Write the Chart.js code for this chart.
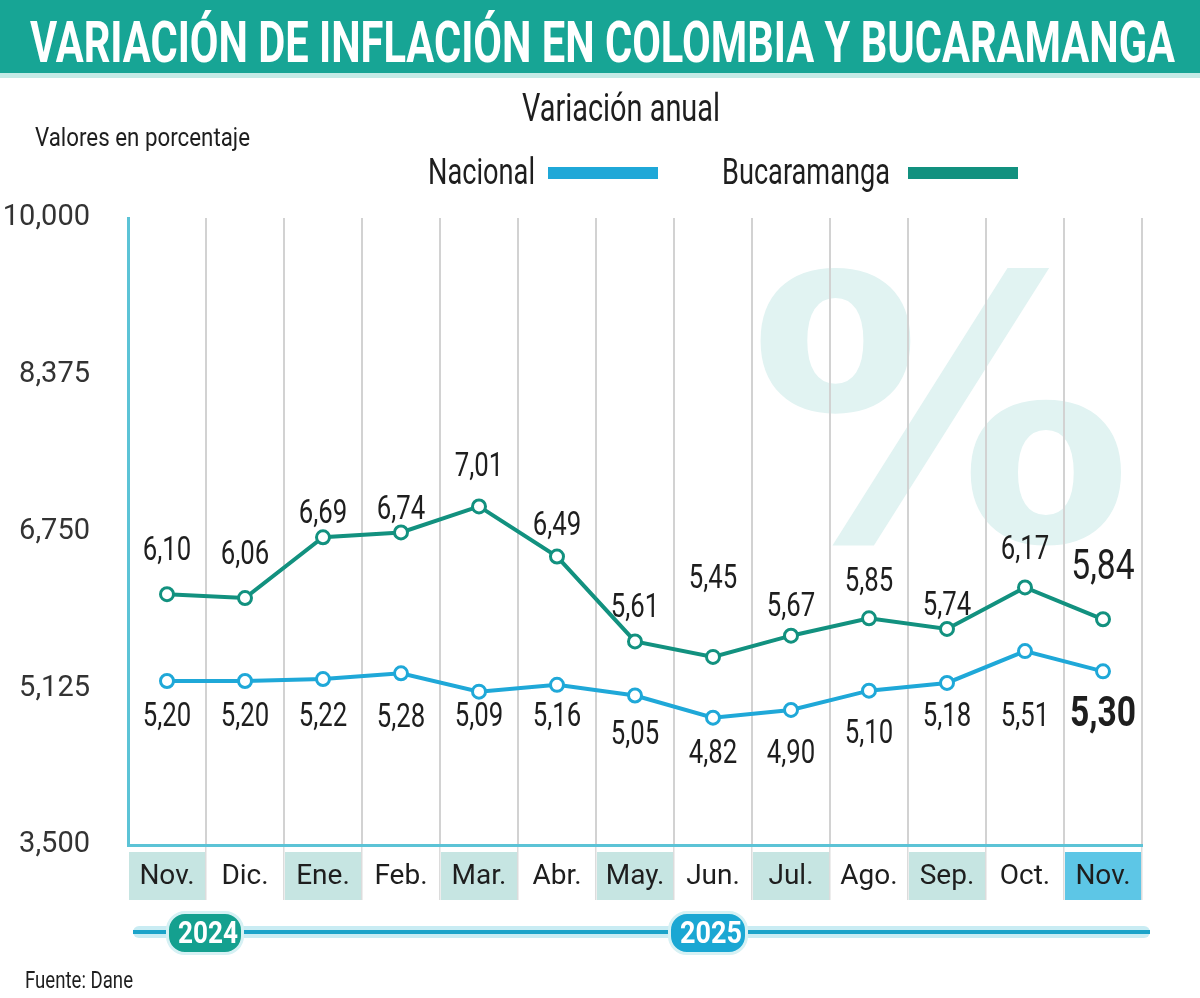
<!DOCTYPE html>
<html><head><meta charset="utf-8">
<script src="https://cdn.jsdelivr.net/npm/chart.js@4.4.0/dist/chart.umd.min.js"></script>
<style>
html,body{margin:0;padding:0;background:#fff;width:1200px;height:998px;overflow:hidden;}
#wrap{position:relative;width:1200px;height:998px;}
#c{position:absolute;left:0;top:0;}
.t{position:absolute;white-space:nowrap;transform-origin:0 0;font-family:Roboto,"Liberation Sans",sans-serif;line-height:1;color:#1e1e1e;}
#bar{position:absolute;left:0;top:0;width:1200px;height:73px;background:#17a595;}
#bar2{position:absolute;left:0;top:73px;width:1200px;height:5px;background:#c4ebe6;}
.sw{position:absolute;height:12px;width:110px;}
#yl1{position:absolute;left:133px;top:926px;width:1017px;height:12px;background:#c9ecf3;border-radius:6px;}
#yl2{position:absolute;left:133px;top:930px;width:1017px;height:4px;background:#1ba3c9;}
.pill{position:absolute;height:38px;border-radius:19px;border:3px solid #d6f1f4;}
</style></head>
<body><div id="wrap">
<canvas id="c" width="1200" height="998"></canvas>
<div id="bar"></div><div id="bar2"></div>
<div class="t" id="title" data-w="1145" style="left:30px;top:13px;font-size:58px;font-weight:bold;color:#fff;">VARIACIÓN DE INFLACIÓN EN COLOMBIA Y BUCARAMANGA</div>
<div class="t" data-w="198" style="left:522px;top:89px;font-size:39px;">Variación anual</div>
<div class="t" data-w="215" style="left:35px;top:124px;font-size:26px;">Valores en porcentaje</div>
<div class="t" id="lg1" data-w="107" style="left:428px;top:153px;font-size:37px;"></div>
<div class="sw" id="sw1" style="left:548px;top:167px;"></div>
<div class="t" id="lg2" data-w="168" style="left:722px;top:153px;font-size:37px;"></div>
<div class="sw" id="sw2" style="left:908px;top:167px;"></div>
<div id="yl1"></div><div id="yl2"></div>
<div class="pill" style="left:166px;top:911px;width:72px;background:#14a08f;"></div>
<div class="pill" style="left:668px;top:911px;width:74px;background:#1aa7d3;"></div>
<div class="t" data-w="60" style="left:178px;top:916px;font-size:32px;font-weight:bold;color:#fff;">2024</div>
<div class="t" data-w="62" style="left:680px;top:916px;font-size:32px;font-weight:bold;color:#fff;">2025</div>
<div class="t" data-w="108" style="left:25px;top:968px;font-size:24px;">Fuente: Dane</div>
</div>
<script>
// ---- data ----
const categories = ["Nov.","Dic.","Ene.","Feb.","Mar.","Abr.","May.","Jun.","Jul.","Ago.","Sep.","Oct.","Nov."];
const nacional = [5.20,5.20,5.22,5.28,5.09,5.16,5.05,4.82,4.90,5.10,5.18,5.51,5.30];
const bucaramanga = [6.10,6.06,6.69,6.74,7.01,6.49,5.61,5.45,5.67,5.85,5.74,6.17,5.84];
const yTicks = [3.5, 5.125, 6.75, 8.375, 10];
const seriesNames = ["Nacional","Bucaramanga"];

// ---- styles ----
const FONT = 'Roboto, "Liberation Sans", sans-serif';
const colNac = '#1fa8d8', colBuc = '#12917f';
const nacLabelDy = [37,37,39,45,26,33,40,37,45,44,35,67,44];
const bucLabelDy = [-42,-42,-23,-22,-39,-30,-33,-77,-28,-36,-22,-37,-51];

document.getElementById('lg1').textContent = seriesNames[0];
document.getElementById('lg2').textContent = seriesNames[1];
document.getElementById('sw1').style.background = colNac;
document.getElementById('sw2').style.background = colBuc;

const fmt = v => v.toFixed(2).replace('.', ',');

const backdrop = {
  id: 'backdrop',
  beforeDraw(chart) {
    const {ctx, chartArea: a} = chart;
    ctx.save();
    ctx.fillStyle = '#fff';
    ctx.fillRect(0, 0, chart.width, chart.height);
    // watermark %
    ctx.font = 'bold 100px "DejaVu Sans"';
    const m = ctx.measureText('%');
    const w = m.actualBoundingBoxLeft + m.actualBoundingBoxRight;
    const h = m.actualBoundingBoxAscent + m.actualBoundingBoxDescent;
    const W = a.right - a.left, H = a.bottom - a.top;
    const x0 = a.left + W * 0.623, x1 = a.left + W * 0.983;
    const y0 = a.top + H * 0.075, y1 = a.top + H * 0.52;
    ctx.fillStyle = '#e1f3f2';
    ctx.translate(x0, y0);
    ctx.scale((x1 - x0) / w, (y1 - y0) / h);
    ctx.fillText('%', m.actualBoundingBoxLeft, m.actualBoundingBoxAscent);
    ctx.restore();
    // category label boxes
    const xs = chart.scales.x;
    const n = categories.length;
    const cw = (a.right - a.left) / n;
    ctx.save();
    for (let i = 0; i < n; i++) {
      const cx = xs.getPixelForValue(i);
      let fill = null;
      if (i === n - 1) fill = '#5dc6e6';
      else if (i % 2 === 0) fill = '#c6e5e2';
      if (fill) { ctx.fillStyle = fill; ctx.fillRect(cx - cw/2 + 1, a.bottom + 7, cw - 2, 48); }
      ctx.fillStyle = '#dcdcdc';
      ctx.fillRect(cx + cw/2 - 1, a.bottom, 1.5, 55);
    }
    ctx.restore();
  }
};

const dataLabels = {
  id: 'dataLabels',
  afterDatasetsDraw(chart) {
    const {ctx} = chart;
    ctx.save();
    ctx.textAlign = 'center';
    ctx.textBaseline = 'middle';
    ctx.fillStyle = '#1e1e1e';
    chart.data.datasets.forEach((ds, di) => {
      const meta = chart.getDatasetMeta(di);
      const dys = di === 0 ? nacLabelDy : bucLabelDy;
      meta.data.forEach((pt, i) => {
        const last = i === ds.data.length - 1;
        let f = '33px ' + FONT;
        let sx = 0.78;
        if (last && di === 0) { f = 'bold 42px ' + FONT; sx = 0.8; }
        else if (last) { f = '42px ' + FONT; sx = 0.8; }
        ctx.font = f;
        ctx.save();
        ctx.translate(pt.x, pt.y + dys[i]);
        ctx.scale(sx, 1);
        ctx.fillText(fmt(ds.data[i]), 0, 0);
        ctx.restore();
      });
    });
    ctx.restore();
  }
};

new Chart(document.getElementById('c'), {
  type: 'line',
  data: {
    labels: categories,
    datasets: [
      {label: seriesNames[0], data: nacional, borderColor: colNac, backgroundColor: '#fff',
       borderWidth: 4, pointRadius: 6.5, pointHoverRadius: 6.5, pointBorderWidth: 3, pointBackgroundColor: '#fff', pointBorderColor: colNac, tension: 0},
      {label: seriesNames[1], data: bucaramanga, borderColor: colBuc, backgroundColor: '#fff',
       borderWidth: 4, pointRadius: 6.5, pointHoverRadius: 6.5, pointBorderWidth: 3, pointBackgroundColor: '#fff', pointBorderColor: colBuc, tension: 0}
    ]
  },
  options: {
    responsive: false,
    animation: false,
    events: [],
    layout: {padding: {left: 0, top: 218, right: 58, bottom: 0}},
    plugins: {legend: {display: false}, tooltip: {enabled: false}},
    scales: {
      x: {
        offset: true,
        grid: {offset: true, color: '#d2d2d2', lineWidth: 2, drawTicks: false},
        border: {display: true, color: '#5cc3d6', width: 3},
        ticks: {color: '#1e1e1e', padding: 15, font: {family: FONT, size: 28}, maxRotation: 0, autoSkip: false},
        afterFit(s) { s.height = 153; }
      },
      y: {
        min: 3.5, max: 10,
        afterBuildTicks(s) { s.ticks = yTicks.map(v => ({value: v})); },
        grid: {display: false, drawTicks: false},
        border: {display: true, color: '#5cc3d6', width: 3},
        ticks: {color: '#333', padding: 38, font: {family: FONT, size: 29},
          callback: v => v.toFixed(3).replace('.', ',')},
        afterFit(s) { s.width = 128; }
      }
    }
  },
  plugins: [backdrop, dataLabels]
});

document.querySelectorAll('.t[data-w]').forEach(el => {
  const tw = +el.dataset.w;
  const w = el.getBoundingClientRect().width;
  if (w > 0) el.style.transform = 'scaleX(' + (tw / w) + ')';
});
</script>
</body></html>
